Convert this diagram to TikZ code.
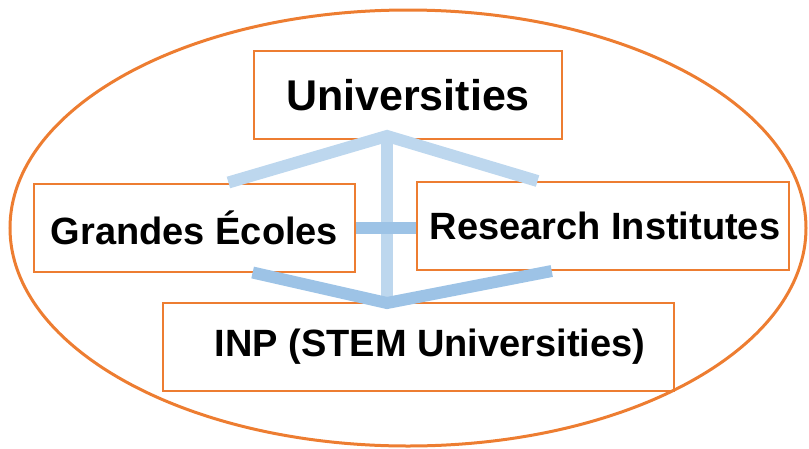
\documentclass[tikz,border=0pt]{standalone}
\usepackage{fontspec}
\setmainfont{Liberation Sans}
\usepackage{tikz}
\usetikzlibrary{calc}

\definecolor{boxorange}{HTML}{ED7D31}
\definecolor{palelink}{HTML}{BDD7EE}
\definecolor{midlink}{HTML}{9DC3E6}

\tikzset{
  sectorbox/.style={draw=boxorange, line width=2pt, minimum height=88pt,
    inner sep=0pt, font=\bfseries\fontsize{38}{40}\selectfont},
  palebar/.style={draw=palelink, line width=12pt, line join=miter},
  midbar/.style={draw=midlink, line width=12pt, line join=miter}
}

\begin{document}
\begin{tikzpicture}[x=1pt,y=-1pt]
    \useasboundingbox (0,0) rectangle (809,448);

    % Draw the outer ellipse
    \draw[boxorange, line width=3pt] (408,228) ellipse [x radius=398, y radius=218];

    % Draw the boxes
    \node[sectorbox, minimum width=308pt, font=\bfseries\fontsize{43}{45}\selectfont] (univ) at (408,95) {Universities\hspace{8pt}};
    \node[sectorbox, minimum width=321pt] (ecoles) at (194.5,227.5) {Grandes Écoles};
    \node[sectorbox, minimum width=372pt] (research) at (603,226) {\hspace{4pt}Research Institutes};
    \node[sectorbox, minimum width=511pt] (inp) at (418.5,347) {\hspace{23pt}INP (STEM Universities)};

    % Hubs of the links
    \coordinate (tophub) at (387,136);
    \coordinate (bothub) at (387,303);

    % Draw the links
    \draw[palebar] ($(ecoles.north west)!0.605!(ecoles.north east)$) -- (tophub)
        -- ($(research.north west)!0.325!(research.north east)$);
    \draw[palebar] (tophub) -- (bothub);
    \draw[midbar] (ecoles.east) -- (ecoles.east -| research.west);
    \draw[midbar] ($(ecoles.south west)!0.68!(ecoles.south east)$) -- (bothub)
        -- ($(research.south west)!0.363!(research.south east)$);
\end{tikzpicture}
\end{document}
